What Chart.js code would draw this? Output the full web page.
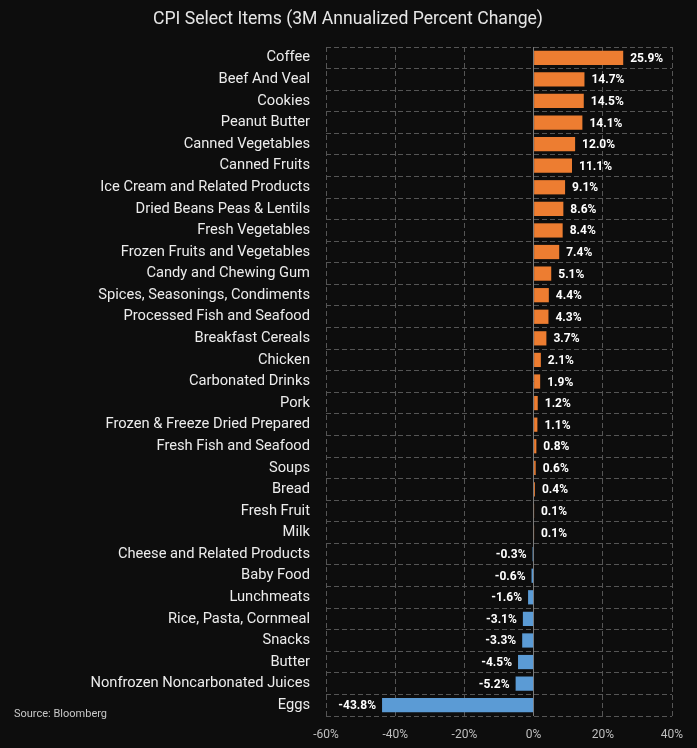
<!DOCTYPE html>
<html><head><meta charset="utf-8">
<script src="https://cdn.jsdelivr.net/npm/chart.js@4.4.1/dist/chart.umd.min.js"></script>
<style>html,body{margin:0;padding:0;background:#0d0d0d;} #wrap{position:relative;width:697px;height:748px;}</style>
</head><body><div id="wrap"><canvas id="c"></canvas></div>
<script>
const categories = ['Coffee','Beef And Veal','Cookies','Peanut Butter','Canned Vegetables','Canned Fruits','Ice Cream and Related Products','Dried Beans Peas & Lentils','Fresh Vegetables','Frozen Fruits and Vegetables','Candy and Chewing Gum','Spices, Seasonings, Condiments','Processed Fish and Seafood','Breakfast Cereals','Chicken','Carbonated Drinks','Pork','Frozen & Freeze Dried Prepared','Fresh Fish and Seafood','Soups','Bread','Fresh Fruit','Milk','Cheese and Related Products','Baby Food','Lunchmeats','Rice, Pasta, Cornmeal','Snacks','Butter','Nonfrozen Noncarbonated Juices','Eggs'];
const values = [25.9,14.7,14.5,14.1,12.0,11.1,9.1,8.6,8.4,7.4,5.1,4.4,4.3,3.7,2.1,1.9,1.2,1.1,0.8,0.6,0.4,0.1,0.1,-0.3,-0.6,-1.6,-3.1,-3.3,-4.5,-5.2,-43.8];
const xMin = -60, xMax = 40, xStep = 20;
const titleText = 'CPI Select Items (3M Annualized Percent Change)';
const sourceText = 'Source: Bloomberg';
const posColor = '#ED7D31', negColor = '#5B9BD5';
const FONT = 'Roboto, sans-serif';

const labelPlugin = {
  id: 'valueLabels',
  afterDatasetsDraw(chart) {
    const ctx = chart.ctx;
    const meta = chart.getDatasetMeta(0);
    ctx.save();
    ctx.font = 'bold 12px Roboto, sans-serif';
    ctx.fillStyle = '#ffffff';
    ctx.textBaseline = 'middle';
    meta.data.forEach((el, i) => {
      const v = values[i];
      const txt = v.toFixed(1) + '%';
      if (v >= 0) { ctx.textAlign = 'left'; ctx.fillText(txt, el.x + 7, el.y + 1); }
      else { ctx.textAlign = 'right'; ctx.fillText(txt, el.x - 6, el.y + 1); }
    });
    ctx.restore();
  },
  afterDraw(chart) {
    const ctx = chart.ctx;
    ctx.save();
    ctx.font = '17.6px Roboto, sans-serif';
    ctx.fillStyle = '#e6e6e6';
    ctx.textAlign = 'center';
    ctx.textBaseline = 'middle';
    ctx.fillText(titleText, 348, 20);
    ctx.font = '11px Roboto, sans-serif';
    ctx.fillStyle = '#c8c8c8';
    ctx.textAlign = 'left';
    ctx.fillText(sourceText, 14, 714);
    ctx.restore();
  }
};

new Chart(document.getElementById('c'), {
  type: 'bar',
  data: {
    labels: categories,
    datasets: [{
      data: values,
      backgroundColor: values.map(v => v >= 0 ? posColor : negColor),
      categoryPercentage: 1,
      barPercentage: 0.66,
      borderWidth: 0
    }]
  },
  options: {
    indexAxis: 'y',
    responsive: true,
    maintainAspectRatio: false,
    animation: false,
    layout: { padding: { left: 0, right: 25, top: 47, bottom: 0 } },
    plugins: {
      legend: { display: false },
      tooltip: { enabled: false },
      title: { display: false }
    },
    scales: {
      x: {
        min: xMin, max: xMax,
        ticks: { stepSize: xStep, color: '#bfbfbf', padding: 12, font: { family: FONT, size: 12 }, callback: v => v + '%' },
        grid: { color: ctx => (ctx.tick && ctx.tick.value === 0) ? '#7a7a7a' : '#555555', lineWidth: 1, drawTicks: false, tickLength: 0 },
        border: { display: false, dash: ctx => (ctx.tick && ctx.tick.value === 0) ? [] : [5, 3] },
        afterFit: s => { s.height = 32; }
      },
      y: {
        ticks: { color: '#ececec', padding: 16, autoSkip: false, font: { family: FONT, size: 14.7 } },
        grid: { color: '#555555', lineWidth: 1, drawTicks: false, tickLength: 0 },
        border: { display: false, dash: [5, 3] },
        afterFit: s => { s.width = 326; }
      }
    }
  },
  plugins: [labelPlugin]
});
</script></body></html>
